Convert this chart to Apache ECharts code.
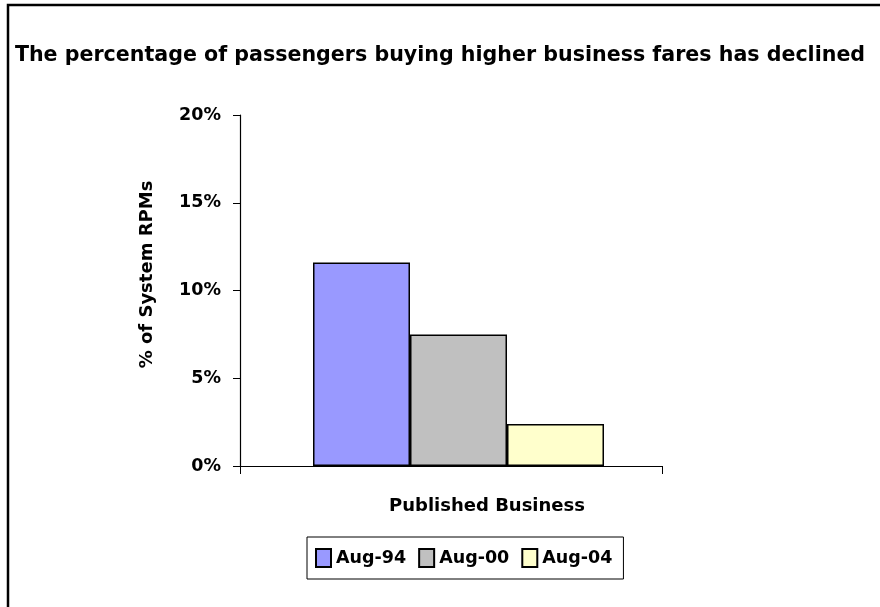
<!DOCTYPE html>
<html>
<head>
<meta charset="utf-8">
<script src="https://cdn.jsdelivr.net/npm/echarts@6/dist/echarts.min.js"></script>
<style>
  html, body { margin: 0; padding: 0; background: #fff; }
  #chart { width: 880px; height: 607px; }
</style>
</head>
<body>
<div id="chart"></div>
<script>
// data
const categories = ['Published Business'];
const seriesNames = ['Aug-94', 'Aug-00', 'Aug-04'];
const aug94 = [11.6];
const aug00 = [7.5];
const aug04 = [2.4];
const seriesColors = ['#9999FF', '#C0C0C0', '#FFFFCC'];
const yTicks = { min: 0, max: 20, interval: 5 };

const font = 'DejaVu Sans';
const values = [aug94, aug00, aug04];

const chart = echarts.init(document.getElementById('chart'), null, { renderer: 'canvas' });
chart.setOption({
  animation: false,
  backgroundColor: '#fff',
  title: {
    text: 'The percentage of passengers buying higher business fares has declined',
    left: 'center',
    top: 40,
    textStyle: { fontFamily: font, fontWeight: 'bold', fontSize: 20.6, color: '#000' }
  },
  graphic: [{
    type: 'rect',
    shape: { x: 8, y: 5, width: 1000, height: 1000 },
    style: { fill: 'none', stroke: '#000', lineWidth: 2.5 },
    silent: true
  }],
  // grid 0 holds the visible axes, grid 1 (same height, nudged right) holds the bars
  grid: [
    { left: 240, right: 218, top: 115, bottom: 141 },
    { left: 247.5, right: 210.5, top: 115, bottom: 141 }
  ],
  legend: {
    data: seriesNames,
    left: 307,
    top: 537,
    orient: 'horizontal',
    icon: 'rect',
    itemWidth: 15,
    itemHeight: 18,
    itemGap: 12,
    padding: [11, 11, 11, 8],
    borderColor: '#000',
    borderWidth: 1,
    textStyle: { fontFamily: font, fontWeight: 'bold', fontSize: 17.5, color: '#000' }
  },
  xAxis: [{
    type: 'category',
    gridIndex: 0,
    data: categories,
    axisLine: { lineStyle: { color: '#000', width: 1 } },
    axisTick: { show: true, length: 8, lineStyle: { color: '#000' } },
    axisLabel: {
      margin: 31,
      padding: [0, 0, 0, 72],
      fontFamily: font, fontWeight: 'bold', fontSize: 18, color: '#000'
    },
    splitLine: { show: false }
  }, {
    type: 'category',
    gridIndex: 1,
    data: categories,
    show: false
  }],
  yAxis: [{
    type: 'value',
    gridIndex: 0,
    min: yTicks.min,
    max: yTicks.max,
    interval: yTicks.interval,
    name: '% of System RPMs',
    nameLocation: 'middle',
    nameRotate: 90,
    nameGap: 84,
    nameTextStyle: {
      fontFamily: font, fontWeight: 'bold', fontSize: 18, color: '#000',
      padding: [0, 0, 0, 32]
    },
    axisLine: { show: true, lineStyle: { color: '#000', width: 1.2 } },
    axisTick: { show: true, length: 7, lineStyle: { color: '#000' } },
    axisLabel: {
      margin: 19,
      formatter: '{value}%',
      fontFamily: font, fontWeight: 'bold', fontSize: 17.5, color: '#000'
    },
    splitLine: { show: false }
  }, {
    type: 'value',
    gridIndex: 1,
    min: yTicks.min,
    max: yTicks.max,
    interval: yTicks.interval,
    show: false
  }],
  series: seriesNames.map((name, i) => ({
    name: name,
    type: 'bar',
    xAxisIndex: 1,
    yAxisIndex: 1,
    data: values[i],
    barWidth: 97,
    barGap: '0%',
    itemStyle: { color: seriesColors[i], borderColor: '#000', borderWidth: 1.5 }
  }))
});
</script>
</body>
</html>
